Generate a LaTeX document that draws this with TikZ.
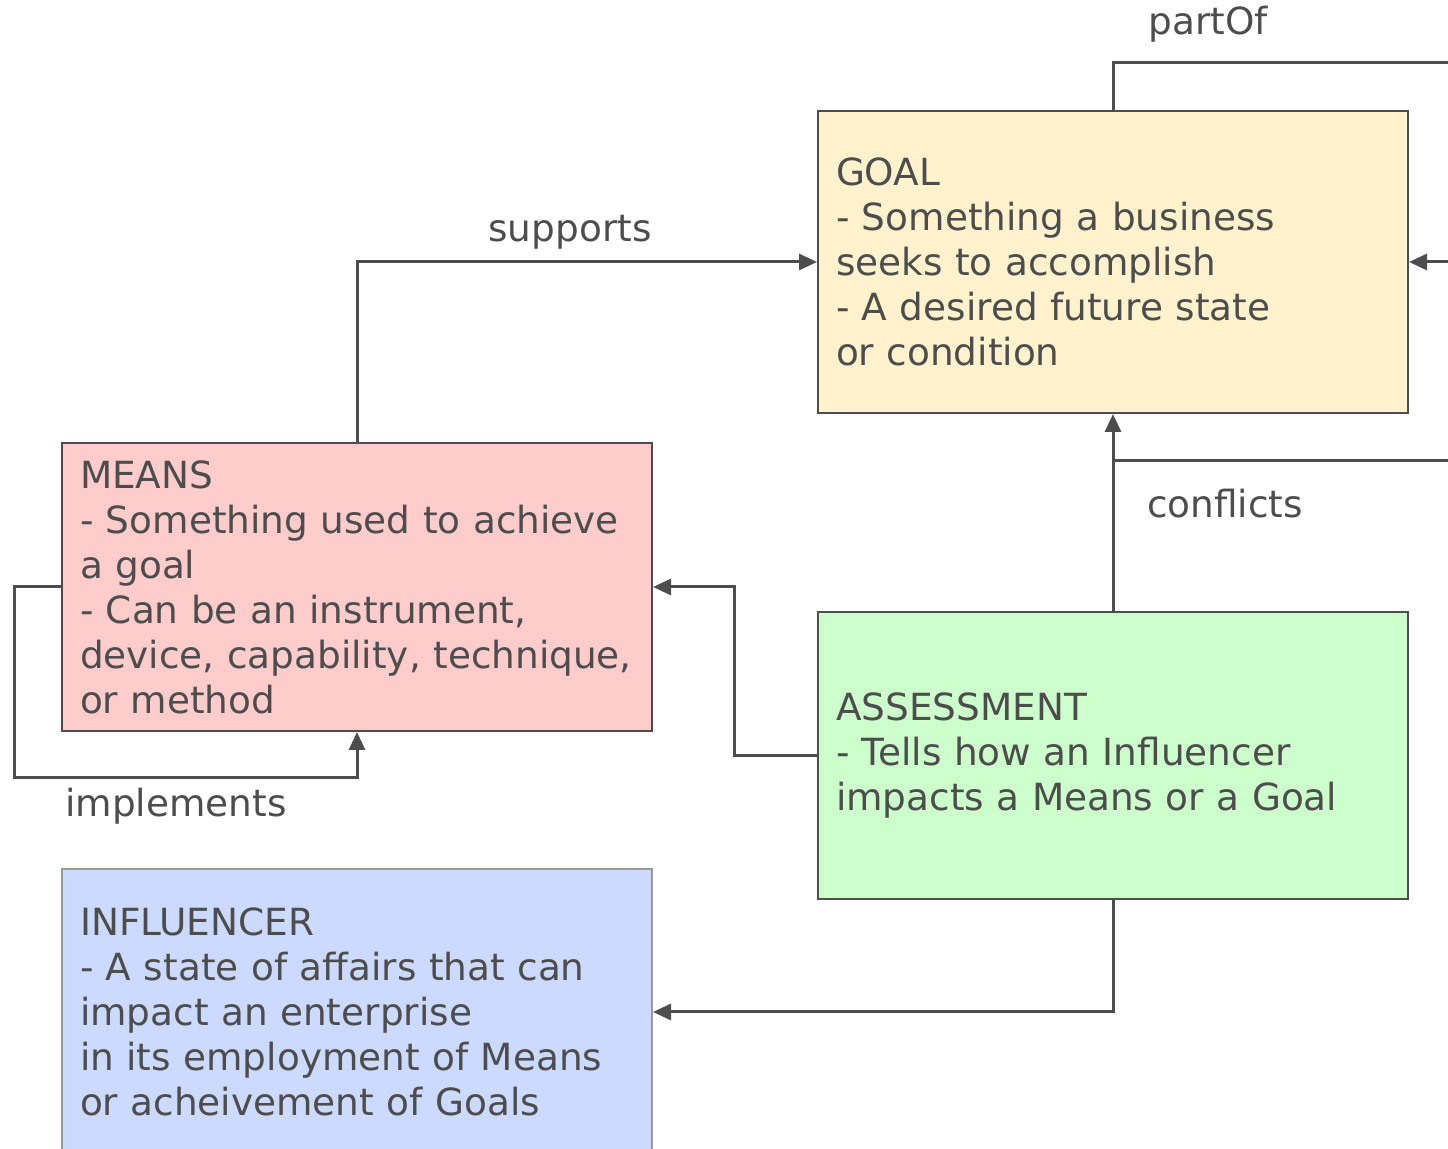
\documentclass[tikz,border=0pt]{standalone}
\usepackage{fontspec}
\setmainfont{DejaVu Sans}
\usepackage{xcolor}
\usepackage{tikz}
\usetikzlibrary{positioning, arrows.meta}

\definecolor{inkgray}{HTML}{4D4D4D}
\definecolor{paleedge}{HTML}{9A9A9A}
\definecolor{goalfill}{HTML}{FFF2CC}
\definecolor{meansfill}{HTML}{FFCCCC}
\definecolor{assessfill}{HTML}{CCFFCC}
\definecolor{inflfill}{HTML}{CCDAFF}

\begin{document}
\begin{tikzpicture}[
        x=0.5pt, y=-0.5pt,
        every node/.style={text=inkgray, font=\fontsize{18.7}{22.5}\selectfont},
        box/.style={draw=inkgray, line width=1pt, align=left, text width=277pt, inner xsep=9pt, inner ysep=0pt, minimum width=295pt},
        goalbox/.style={box, fill=goalfill, minimum height=151pt},
        meansbox/.style={box, fill=meansfill, minimum height=144pt},
        assessbox/.style={box, fill=assessfill, minimum height=143.5pt},
        inflbox/.style={box, draw=paleedge, fill=inflfill, minimum height=143pt},
        to/.style={-{Triangle[length=9pt,width=8pt]}, line width=1.5pt, draw=inkgray},
        link/.style={line width=1.5pt, draw=inkgray},
        ]
      \useasboundingbox (0,0) rectangle (1448,1149);
      \clip (0,0) rectangle (1448,1149);

      \node [goalbox] (goal) at (1113,262) {GOAL\\- Something a business\\seeks to accomplish\\- A desired future state\\or condition};
      \node [meansbox] (means) at (357,587) {MEANS\\- Something used to achieve\\a goal\\- Can be an instrument,\\device, capability, technique,\\or method};
      \node [assessbox, below=98.5pt of goal] (assess) {ASSESSMENT\\- Tells how an Influencer\\impacts a Means or a Goal};
      \node [inflbox, below=68pt of means] (infl) {INFLUENCER\\- A state of affairs that can\\impact an enterprise\\in its employment of Means\\or acheivement of Goals};

      \coordinate (implA) at (14,587);
      \coordinate (implB) at (14,778);
      \coordinate (partofEnd) at (1470,63);
      \coordinate (goalIn) at (1470,262);
      \coordinate (conflJoin) at (1113,461);
      \coordinate (conflEnd) at (1470,461);

      \draw[to] (means.north) |- (goal.west);
      \draw[to] (means.west) -- (implA) -- (implB) -| (means.south);
      \draw[link] (goal.north) |- (partofEnd);
      \draw[to] (goalIn) -- (goal.east);
      \draw[to] (assess.north) -- (goal.south);
      \draw[link] (conflJoin) -- (conflEnd);
      \draw[to] (assess.west) -- ++(-83,0) |- (means.east);
      \draw[to] (assess.south) |- (infl.east);

      \node (supports) at (570,232) {supports};
      \node (implements) at (176,806) {implements};
      \node (partof) at (1208,24) {partOf};
      \node (conflicts) at (1225,504) {conflicts};
    \end{tikzpicture}
\end{document}
